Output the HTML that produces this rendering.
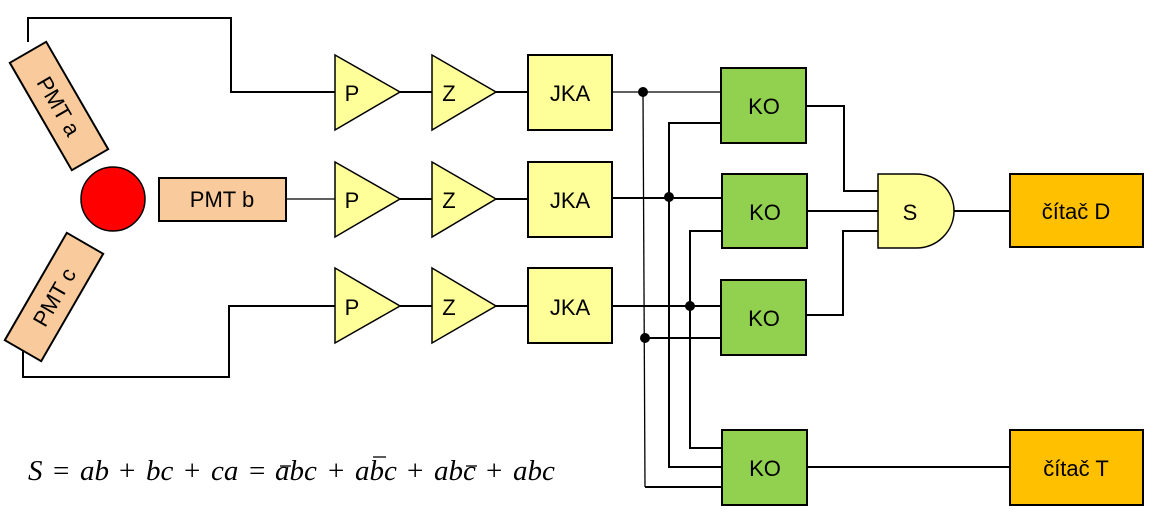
<!DOCTYPE html>
<html><head><meta charset="utf-8"><style>html,body{margin:0;padding:0;background:#fff}svg{display:block}</style></head>
<body>
<svg width="1161" height="524" viewBox="0 0 1161 524" xmlns="http://www.w3.org/2000/svg" font-family="Liberation Sans, sans-serif">
<g fill="none" stroke="#000" stroke-width="2">
<polyline points="28,42 28,18 231,18 231,92 335,92"/>
<polyline points="23,348 23,377 229,377 229,306 335,306"/>
<line x1="286" y1="199" x2="335" y2="199" stroke-width="1.3"/>
<line x1="400" y1="92" x2="432" y2="92"/><line x1="400" y1="199" x2="432" y2="199"/><line x1="400" y1="306" x2="432" y2="306"/>
<line x1="496" y1="92" x2="528" y2="92"/><line x1="496" y1="199" x2="528" y2="199"/><line x1="496" y1="306" x2="528" y2="306"/>
<line x1="612" y1="92" x2="721" y2="92" stroke-width="1.3"/>
<line x1="612" y1="198" x2="722" y2="198"/>
<line x1="612" y1="306" x2="721" y2="306"/>
<line x1="643" y1="92" x2="645" y2="487" stroke-width="1.3"/>
<polyline points="721,123 669,123 669,467 722,467"/>
<polyline points="722,231 690,231 690,448 722,448"/>
<polyline points="645,338 721,338"/>
<polyline points="645,487 722,487"/>
<polyline points="806,106 844,106 844,191 878,191"/>
<line x1="807" y1="211" x2="878" y2="211"/>
<polyline points="806,315 843,315 843,231 878,231"/>
<line x1="954" y1="211" x2="1010" y2="211"/>
<line x1="807" y1="467" x2="1010" y2="467"/>
</g>
<g fill="#000"><circle cx="643" cy="92" r="5"/><circle cx="669" cy="197" r="5"/><circle cx="690" cy="306" r="5"/><circle cx="645" cy="338" r="5"/></g>
<g fill="#f9cb9c" stroke="#000" stroke-width="2">
<g transform="translate(59,106) rotate(60)"><rect x="-62" y="-21" width="124" height="42"/><text x="0" y="8" text-anchor="middle" font-size="22" stroke="none" fill="#000">PMT a</text></g>
<g transform="translate(54,297) rotate(-60)"><rect x="-62" y="-21" width="124" height="42"/><text x="0" y="8" text-anchor="middle" font-size="22" stroke="none" fill="#000">PMT c</text></g>
<rect x="159" y="178" width="127" height="43"/>
</g>
<text x="222" y="207" text-anchor="middle" font-size="22">PMT b</text>
<circle cx="113" cy="199" r="32" fill="#f00" stroke="#000" stroke-width="1.5"/>
<g fill="#ffff99" stroke="#000" stroke-width="1.5">
<polygon points="335,55 400,92 335,130"/><polygon points="432,55 496,92 432,130"/>
<polygon points="335,162 400,199 335,237"/><polygon points="432,162 496,199 432,237"/>
<polygon points="335,268 400,306 335,343"/><polygon points="432,268 496,306 432,343"/>
<rect x="528" y="55" width="84" height="75" stroke-width="2"/><rect x="528" y="162" width="84" height="75" stroke-width="2"/><rect x="528" y="268" width="84" height="75" stroke-width="2"/>
<path d="M878,174 H916 A38,37 0 0 1 916,248 H878 Z"/>
</g>
<g font-size="22" text-anchor="middle">
<text x="352" y="101">P</text><text x="449" y="101">Z</text>
<text x="352" y="208">P</text><text x="449" y="208">Z</text>
<text x="352" y="315">P</text><text x="449" y="315">Z</text>
<text x="570" y="101">JKA</text><text x="570" y="208">JKA</text><text x="570" y="315">JKA</text>
<text x="910" y="220">S</text>
</g>
<g fill="#92d050" stroke="#000" stroke-width="2">
<rect x="721" y="68" width="85" height="75"/><rect x="722" y="174" width="85" height="74"/>
<rect x="721" y="280" width="85" height="75"/><rect x="722" y="430" width="85" height="75"/>
</g>
<g font-size="22" text-anchor="middle">
<text x="764" y="114">KO</text><text x="765" y="220">KO</text><text x="764" y="326">KO</text><text x="765" y="476">KO</text>
</g>
<g fill="#ffc000" stroke="#000" stroke-width="2"><rect x="1010" y="174" width="133" height="73"/><rect x="1010" y="430" width="133" height="75"/></g>
<g font-size="22" text-anchor="middle"><text x="1076" y="219">čítač D</text><text x="1076" y="476">čítač T</text></g>
<g font-family="Liberation Serif, serif" font-style="italic" font-size="29">
<text x="28" y="480">S</text>
<text x="53" y="480" font-style="normal">=</text>
<text x="80" y="480">ab</text>
<text x="119" y="480" font-style="normal">+</text>
<text x="146" y="480">bc</text>
<text x="184" y="480" font-style="normal">+</text>
<text x="211" y="480">ca</text>
<text x="249" y="480" font-style="normal">=</text>
<text x="275" y="480">abc</text>
<text x="328" y="480" font-style="normal">+</text>
<text x="355" y="480">abc</text>
<text x="407" y="480" font-style="normal">+</text>
<text x="434" y="480">abc</text>
<text x="486" y="480" font-style="normal">+</text>
<text x="513" y="480">abc</text>
</g>
<g stroke="#000" stroke-width="1.3"><line x1="280" y1="466" x2="291" y2="466"/><line x1="373" y1="457" x2="386" y2="457"/><line x1="466" y1="466" x2="477" y2="466"/></g>
</svg>
</body></html>
